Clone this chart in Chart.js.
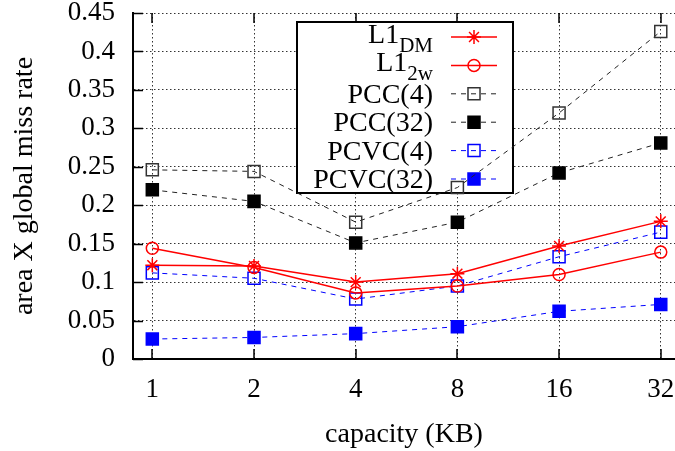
<!DOCTYPE html>
<html>
<head>
<meta charset="utf-8">
<script src="https://cdn.jsdelivr.net/npm/chart.js@4"></script>
<style>
  html, body { margin: 0; padding: 0; background: #fff; }
  #c { display: block; }
</style>
</head>
<body>
<canvas id="c" width="675" height="451"></canvas>
<script>
// ---- data ----
const categories = ['1', '2', '4', '8', '16', '32'];
const yTicks = [0, 0.05, 0.1, 0.15, 0.2, 0.25, 0.3, 0.35, 0.4, 0.45];
const yTickLabels = ['0', '0.05', '0.1', '0.15', '0.2', '0.25', '0.3', '0.35', '0.4', '0.45'];
const xTitle = 'capacity (KB)';
const yTitle = 'area X global miss rate';

const seriesNames = ['L1', 'L1', 'PCC(4)', 'PCC(32)', 'PCVC(4)', 'PCVC(32)'];
const seriesSubscripts = ['DM', '2w', '', '', '', ''];

const l1DM   = [0.122, 0.121, 0.100, 0.111, 0.147, 0.179];
const l12w   = [0.144, 0.119, 0.086, 0.095, 0.110, 0.139];
const pcc4   = [0.246, 0.244, 0.178, 0.223, 0.320, 0.426];
const pcc32  = [0.220, 0.205, 0.151, 0.178, 0.242, 0.281];
const pcvc4  = [0.112, 0.105, 0.078, 0.095, 0.133, 0.165];
const pcvc32 = [0.026, 0.028, 0.033, 0.042, 0.062, 0.071];

// ---- styles ----
const FONT = 'Liberation Serif';
const FS_TICK = 27;
const FS_TEXT = 28;
const RED = '#ff0000', BLUE = '#0000ff', BLACK = '#000000';

const styles = [
  { color: RED,   dash: [],     width: 1.5, marker: 'star',   fill: false, r: 7 },
  { color: RED,   dash: [],     width: 1.5, marker: 'circle', fill: false, r: 6 },
  { color: '#222', dash: [5, 5], width: 1,  marker: 'rect',   fill: false, r: 8.5 },
  { color: '#222', dash: [5, 5], width: 1,  marker: 'rect',   fill: true,  r: 8.5 },
  { color: BLUE,  dash: [5, 5], width: 1,   marker: 'rect',   fill: false, r: 8.5 },
  { color: BLUE,  dash: [5, 5], width: 1,   marker: 'rect',   fill: true,  r: 8.5 },
];
const seriesValues = [l1DM, l12w, pcc4, pcc32, pcvc4, pcvc32];
const markerFill = [null, null, null, BLACK, null, BLUE];

const datasets = seriesValues.map((vals, k) => {
  const s = styles[k];
  return {
    label: seriesNames[k] + seriesSubscripts[k],
    data: vals.map((v, i) => ({ x: i, y: v })),
    borderColor: s.color,
    borderWidth: s.width,
    borderDash: s.dash,
    tension: 0,
    fill: false,
    pointStyle: s.marker,
    pointRadius: s.r,
    pointBorderWidth: 1.5,
    pointBorderColor: markerFill[k] || (k === 2 ? '#333' : s.color),
    pointBackgroundColor: s.fill ? markerFill[k] : 'rgba(0,0,0,0)',
  };
});

function drawMarker(ctx, k, x, y) {
  const s = styles[k];
  ctx.save();
  ctx.setLineDash([]);
  ctx.lineWidth = 1.5;
  ctx.strokeStyle = markerFill[k] || (k === 2 ? '#333' : s.color);
  ctx.fillStyle = s.fill ? markerFill[k] : 'rgba(0,0,0,0)';
  ctx.beginPath();
  if (s.marker === 'rect') {
    const h = s.r * Math.SQRT1_2;
    ctx.rect(x - h, y - h, 2 * h, 2 * h);
    if (s.fill) ctx.fill();
    ctx.stroke();
  } else if (s.marker === 'circle') {
    ctx.arc(x, y, s.r, 0, Math.PI * 2);
    ctx.stroke();
  } else {
    const r = s.r;
    for (let a = 0; a < 4; a++) {
      const ang = a * Math.PI / 4;
      ctx.moveTo(x - r * Math.cos(ang), y - r * Math.sin(ang));
      ctx.lineTo(x + r * Math.cos(ang), y + r * Math.sin(ang));
    }
    ctx.stroke();
  }
  ctx.restore();
}

const frame = {
  id: 'frame',
  beforeDatasetsDraw(chart) {
    const ctx = chart.ctx;
    const { left, right, top, bottom } = chart.chartArea;
    const xs = chart.scales.x, ys = chart.scales.y;
    ctx.save();
    ctx.strokeStyle = '#000';
    ctx.lineWidth = 1.5;
    ctx.setLineDash([]);
    ctx.beginPath();
    const TL = 10;
    yTicks.forEach(v => {
      const py = Math.round(ys.getPixelForValue(v)) + 0.5;
      ctx.moveTo(left, py); ctx.lineTo(left + TL, py);
    });
    categories.forEach((c, i) => {
      const px = Math.round(xs.getPixelForValue(i));
      ctx.moveTo(px, bottom); ctx.lineTo(px, bottom - TL);
      ctx.moveTo(px, top); ctx.lineTo(px, top + TL);
    });
    ctx.stroke();

    // key box
    const bx = 297, by = 22, bw = 216, bh = 171;
    ctx.fillStyle = '#fff';
    ctx.fillRect(bx, by, bw, bh);
    ctx.lineWidth = 2;
    ctx.strokeRect(bx, by, bw, bh);

    const textRight = 433, l0 = 451, l1 = 497, mx = 474;
    seriesNames.forEach((name, k) => {
      const y = 37 + k * 28.4;
      const s = styles[k];
      ctx.fillStyle = '#000';
      ctx.textAlign = 'right';
      ctx.textBaseline = 'alphabetic';
      const sub = seriesSubscripts[k];
      if (sub) {
        ctx.font = '21px "' + FONT + '"';
        const sw = ctx.measureText(sub).width;
        ctx.fillText(sub, textRight, y + 15);
        ctx.font = FS_TEXT + 'px "' + FONT + '"';
        ctx.fillText(name, textRight - sw, y + 6);
      } else {
        ctx.font = FS_TEXT + 'px "' + FONT + '"';
        ctx.fillText(name, textRight, y + 9);
      }
      ctx.save();
      ctx.strokeStyle = s.color;
      ctx.lineWidth = s.width;
      ctx.setLineDash(s.dash);
      ctx.beginPath();
      ctx.moveTo(l0, y); ctx.lineTo(l1, y);
      ctx.stroke();
      ctx.restore();
      drawMarker(ctx, k, mx, y);
    });
    ctx.restore();
  }
};

const tickFont = { family: FONT, size: FS_TICK };
const titleFont = { family: FONT, size: FS_TEXT };

new Chart(document.getElementById('c'), {
  type: 'line',
  data: { datasets },
  plugins: [frame],
  options: {
    responsive: false,
    animation: false,
    devicePixelRatio: 1,
    layout: { autoPadding: false, padding: { top: 13, left: 0, right: 0, bottom: 0 } },
    plugins: { legend: { display: false }, tooltip: { enabled: false } },
    elements: { point: { hitRadius: 0 } },
    scales: {
      x: {
        type: 'linear',
        min: -0.19,
        max: 5.14,
        afterBuildTicks: s => { s.ticks = categories.map((c, i) => ({ value: i })); },
        ticks: {
          callback: (v, i) => categories[i],
          font: tickFont, color: '#000', padding: 15,
          maxRotation: 0, autoSkip: false,
        },
        grid: { color: '#333', lineWidth: 1, drawTicks: false },
        border: { display: true, color: '#000', width: 2, dash: [1.5, 2.5] },
        title: { display: true, text: xTitle, font: titleFont, color: '#000', padding: { top: 0, bottom: 0 } },
        afterFit: s => { s.height = 92; s.paddingLeft = 0; s.paddingRight = 0; },
      },
      y: {
        min: 0,
        max: 0.45,
        afterBuildTicks: s => { s.ticks = yTicks.map(v => ({ value: v })); },
        ticks: {
          callback: (v, i) => yTickLabels[i],
          font: tickFont, color: '#000', padding: 18,
        },
        grid: { color: '#333', lineWidth: 1, drawTicks: false },
        border: { display: true, color: '#000', width: 2, dash: [1.5, 2.5] },
        title: { display: true, text: yTitle, font: titleFont, color: '#000', padding: { top: 8, bottom: 0 } },
        afterFit: s => { s.width = 133; s.paddingTop = 0; s.paddingBottom = 0; },
      },
    },
  },
});
</script>
</body>
</html>
